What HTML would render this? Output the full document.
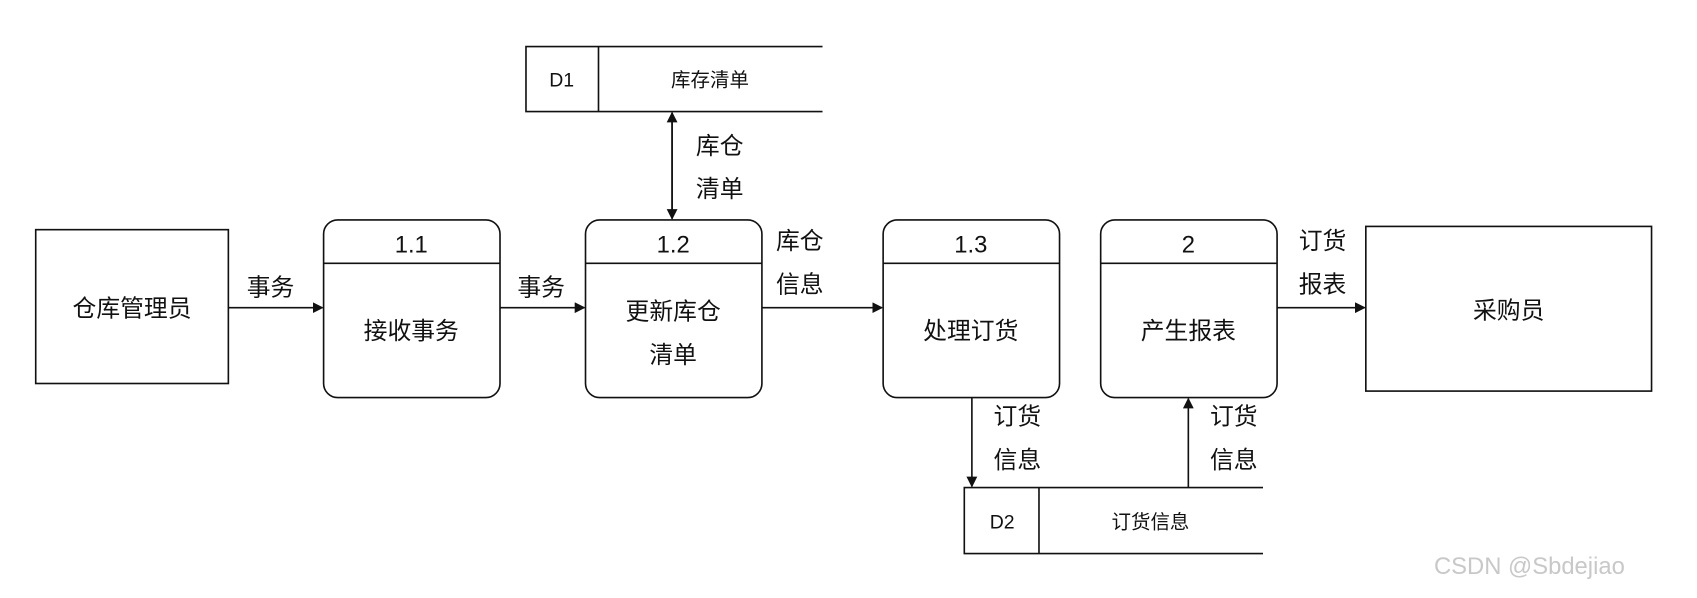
<!DOCTYPE html>
<html><head><meta charset="utf-8"><style>
html,body{margin:0;padding:0;background:#fff;}
svg{display:block;}
text{font-family:"Liberation Sans","Noto Sans CJK SC",sans-serif;fill:#111;}
</style></head><body>
<svg width="1697" height="598" viewBox="0 0 1568 552" preserveAspectRatio="none" xmlns="http://www.w3.org/2000/svg">
<defs><marker id="a" markerWidth="10" markerHeight="10" refX="9" refY="5" orient="auto" markerUnits="userSpaceOnUse"><path d="M0,0 L10,5 L0,10 z" fill="#111"/></marker></defs>
<g stroke="#111" stroke-width="1.5" fill="none">
<rect x="33" y="212" width="178" height="142"/>
<rect x="1262" y="209" width="264" height="152"/>
<rect x="299" y="203" width="163" height="164" rx="13"/><line x1="299" y1="243" x2="462" y2="243"/>
<rect x="541" y="203" width="163" height="164" rx="13"/><line x1="541" y1="243" x2="704" y2="243"/>
<rect x="816" y="203" width="163" height="164" rx="13"/><line x1="816" y1="243" x2="979" y2="243"/>
<rect x="1017" y="203" width="163" height="164" rx="13"/><line x1="1017" y1="243" x2="1180" y2="243"/>
<path d="M760,43 H486 V103 H760 M553,43 V103"/>
<path d="M1167,450 H891 V511 H1167 M960,450 V511"/>
<line x1="211" y1="284" x2="298" y2="284" marker-end="url(#a)"/>
<line x1="462" y1="284" x2="540" y2="284" marker-end="url(#a)"/>
<line x1="704" y1="284" x2="815" y2="284" marker-end="url(#a)"/>
<line x1="1180" y1="284" x2="1261" y2="284" marker-end="url(#a)"/>
<line x1="621" y1="110" x2="621" y2="202" marker-end="url(#a)" marker-start="url(#b)"/>
<line x1="621" y1="200" x2="621" y2="104" marker-end="url(#a)"/>
<line x1="898" y1="367" x2="898" y2="449" marker-end="url(#a)"/>
<line x1="1098" y1="450" x2="1098" y2="368" marker-end="url(#a)"/>
</g>
<g font-size="22" text-anchor="middle">
<text x="122" y="292">仓库管理员</text>
<text x="380" y="233">1.1</text><text x="380" y="313">接收事务</text>
<text x="622" y="233">1.2</text><text x="622" y="295">更新库仓</text><text x="622" y="335">清单</text>
<text x="897" y="233">1.3</text><text x="897" y="313">处理订货</text>
<text x="1098" y="233">2</text><text x="1098" y="313">产生报表</text>
<text x="1394" y="294">采购员</text>
<text x="250" y="273">事务</text>
<text x="500" y="273">事务</text>
<text x="739" y="230">库仓</text><text x="739" y="270">信息</text>
<text x="665" y="142">库仓</text><text x="665" y="182">清单</text>
<text x="1222" y="230">订货</text><text x="1222" y="270">报表</text>
<text x="940" y="392">订货</text><text x="940" y="432">信息</text>
<text x="1140" y="392">订货</text><text x="1140" y="432">信息</text>
</g>
<g font-size="18" text-anchor="middle">
<text x="519" y="80">D1</text><text x="656" y="80">库存清单</text>
<text x="926" y="488">D2</text><text x="1063" y="488">订货信息</text>
</g>
<text x="1325" y="530" font-size="22" fill="#bbb" style="fill:#c8c8c8">CSDN @Sbdejiao</text>
</svg>
</body></html>
